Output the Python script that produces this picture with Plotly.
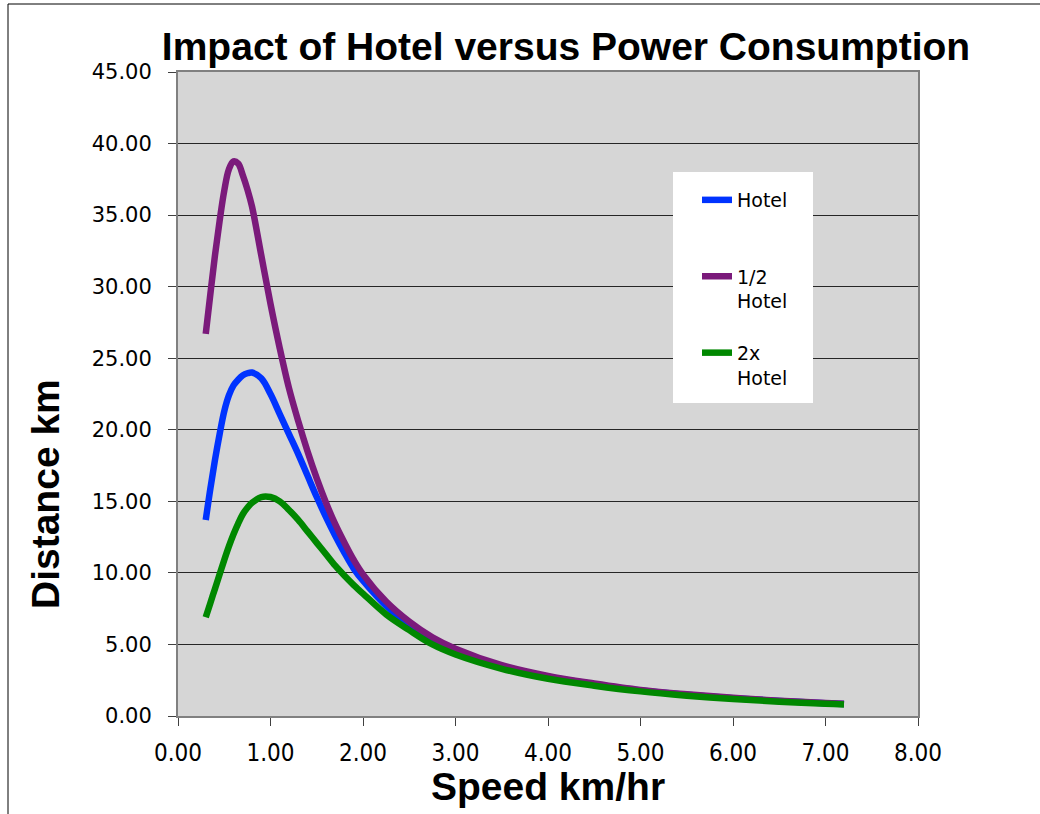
import plotly.graph_objects as go

# ---- data ----
speed_kmh = [0.3, 0.35, 0.4, 0.45, 0.5, 0.55, 0.6, 0.65, 0.7, 0.75, 0.8, 0.9, 1.0, 1.1, 1.2, 1.3, 1.4, 1.5,
             1.6, 1.7, 1.8, 1.9, 2.0, 2.25, 2.5, 2.75, 3.0, 3.5, 4.0, 4.5, 5.0, 5.5, 6.0, 6.5, 7.0, 7.2]

hotel = [13.7, 15.9, 17.9, 19.7, 21.3, 22.4, 23.1, 23.5, 23.8, 23.95, 24.0, 23.6, 22.5, 21.1, 19.7, 18.3, 16.8, 15.3,
         13.9, 12.6, 11.4, 10.3, 9.45, 7.7, 6.35, 5.25, 4.55, 3.48, 2.75, 2.22, 1.78, 1.48, 1.24, 1.05, 0.89, 0.84]

half_hotel = [26.7, 29.5, 32.2, 34.6, 36.7, 38.2, 38.75, 38.6, 37.8, 36.8, 35.6, 32.2, 28.8, 25.7, 22.9, 20.6, 18.5, 16.6,
              14.9, 13.4, 12.1, 10.9, 9.9, 8.0, 6.6, 5.5, 4.7, 3.55, 2.8, 2.27, 1.82, 1.52, 1.27, 1.07, 0.91, 0.86]

double_hotel = [6.9, 7.9, 8.9, 9.9, 10.9, 11.85, 12.7, 13.45, 14.1, 14.55, 14.9, 15.3, 15.3, 15.0, 14.4, 13.7, 12.9, 12.1,
                11.3, 10.5, 9.8, 9.15, 8.55, 7.1, 6.0, 5.0, 4.3, 3.3, 2.6, 2.12, 1.72, 1.42, 1.18, 1.0, 0.85, 0.81]

series_names = ["Hotel<br> ", "1/2<br>Hotel", "2x<br>Hotel"]
series_values = [hotel, half_hotel, double_hotel]
series_colors = ["#0033ff", "#7b1a7b", "#008800"]

y_ticks = [0, 5, 10, 15, 20, 25, 30, 35, 40, 45]
x_ticks = [0, 1, 2, 3, 4, 5, 6, 7, 8]

BOLD = "Liberation Sans, Arial, sans-serif"
COND = "DejaVu Sans Condensed, DejaVu Sans, sans-serif"
WIDE = "DejaVu Sans, Verdana, sans-serif"

fig = go.Figure()
for i, (name, vals, col) in enumerate(zip(series_names, series_values, series_colors)):
    fig.add_trace(go.Scatter(
        x=speed_kmh, y=vals, mode="lines", name=name,
        legendgroup=f"g{i}",
        line=dict(color=col, width=6.5, shape="spline", smoothing=1.0),
    ))

# plot-area geometry (pixels)
L, R, T, B = 178, 918, 72, 716
W, H = R - L, B - T

def px(xp):
    return (xp - L) / W

def py(yp):
    return (B - yp) / H

fig.update_layout(
    width=1040, height=814,
    margin=dict(l=L, r=1040 - R, t=T, b=814 - B, autoexpand=False),
    paper_bgcolor="white",
    plot_bgcolor="#d6d6d6",
    title=dict(
        text="Impact of Hotel versus Power Consumption",
        font=dict(family=BOLD, size=39, color="black", weight="bold"),
        x=px(566), xref="paper", xanchor="center",
        y=1 - 46 / 814, yref="container", yanchor="middle",
    ),
    xaxis=dict(
        range=[0, 8], tickvals=x_ticks, tickformat=".2f",
        showgrid=False, zeroline=False,
        showline=True, linecolor="#808080", linewidth=2, mirror=True,
        ticks="outside", ticklen=8, tickcolor="#404040", tickwidth=1,
        tickfont=dict(family=COND, size=24, color="black"),
        ticklabelstandoff=6,
    ),
    yaxis=dict(
        range=[0, 45], tickvals=y_ticks, tickformat=".2f",
        showgrid=True, gridcolor="#262626", gridwidth=1, zeroline=False,
        showline=True, linecolor="#808080", linewidth=2, mirror=True,
        ticks="outside", ticklen=8, tickcolor="#404040", tickwidth=1,
        tickfont=dict(family=WIDE, size=21, color="black"),
        ticklabelstandoff=12,
    ),
    showlegend=True,
    legend=dict(
        x=px(697), y=py(181), xanchor="left", yanchor="top",
        bgcolor="rgba(0,0,0,0)", borderwidth=0,
        font=dict(family=WIDE, size=19, color="black"),
        traceorder="grouped", tracegroupgap=24, valign="top",
    ),
    shapes=[
        # outer chart frame
        dict(type="rect", xref="paper", yref="paper",
             x0=px(8), x1=px(1100), y0=py(900), y1=py(4),
             line=dict(color="black", width=1), fillcolor="rgba(0,0,0,0)", layer="above"),
        # legend box
        dict(type="rect", xref="paper", yref="paper",
             x0=px(673), x1=px(813), y0=py(403), y1=py(172),
             line=dict(width=0), fillcolor="white", layer="above"),
    ],
    annotations=[
        dict(text="Speed km/hr", xref="paper", yref="paper",
             x=px(548), y=py(786), xanchor="center", yanchor="middle",
             showarrow=False, font=dict(family=BOLD, size=39, color="black", weight="bold")),
        dict(text="Distance km", xref="paper", yref="paper",
             x=px(45), y=py(494), xanchor="center", yanchor="middle", textangle=-90,
             showarrow=False, font=dict(family=BOLD, size=39, color="black", weight="bold")),
    ],
)

fig.write_html("out.html")
